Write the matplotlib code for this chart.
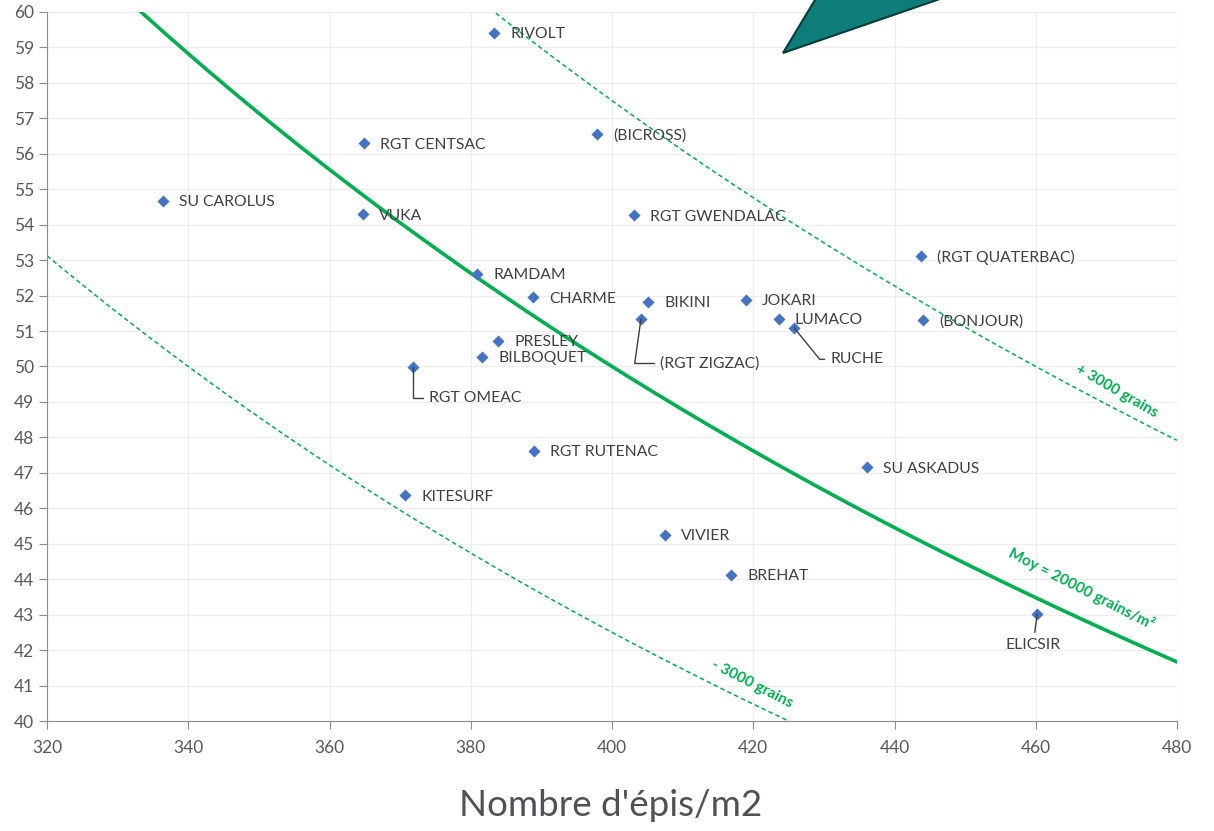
import numpy as np
import matplotlib.pyplot as plt
from matplotlib.patches import Polygon

plt.rcParams['font.family'] = ['Lato', 'DejaVu Sans']

# variétés : épis/m2, grains/épi
varietes = ['RIVOLT', 'RGT CENTSAC', '(BICROSS)', 'SU CAROLUS', 'VUKA',
            'RGT GWENDALAC', '(RGT QUATERBAC)', 'RAMDAM', 'CHARME', 'BIKINI',
            'JOKARI', 'LUMACO', 'RUCHE', '(BONJOUR)', '(RGT ZIGZAC)',
            'PRESLEY', 'BILBOQUET', 'RGT OMEAC', 'RGT RUTENAC', 'SU ASKADUS',
            'KITESURF', 'VIVIER', 'BREHAT', 'ELICSIR']
epis = [383.3, 364.9, 397.9, 336.4, 364.7,
        403.1, 443.8, 380.9, 388.8, 405.1,
        419.0, 423.6, 425.8, 444.0, 404.1,
        383.9, 381.6, 371.8, 389.0, 436.1,
        370.7, 407.5, 416.9, 460.2]
grains = [59.41, 56.30, 56.56, 54.67, 54.30,
          54.27, 53.12, 52.61, 51.96, 51.82,
          51.88, 51.34, 51.09, 51.31, 51.34,
          50.72, 50.27, 49.99, 47.62, 47.16,
          46.37, 45.25, 44.12, 43.02]

moy = 20000      # grains/m2
ecart = 3000     # +/- grains

# offsets of the labels (pixels) and leader lines
offsets = {'RGT OMEAC': (16, -30), '(RGT ZIGZAC)': (19, -43),
           'RUCHE': (36, -30), 'ELICSIR': (-4, -24)}
leaders = {'RGT OMEAC': 'angle,angleA=0,angleB=90,rad=0',
           '(RGT ZIGZAC)': 'angle,angleA=0,angleB=82,rad=0',
           'RUCHE': 'angle,angleA=0,angleB=-51,rad=0',
           'ELICSIR': 'arc3,rad=0'}

green = '#00B050'
grey = '#595959'

fig = plt.figure(figsize=(12.14, 8.31), dpi=100)
ax = fig.add_axes([47 / 1214, 1 - 721 / 831, 1130 / 1214, 709 / 831])

x = np.linspace(320, 480, 400)
ax.plot(x, moy / x, color=green, lw=2.6, zorder=2)
ax.plot(x, (moy + ecart) / x, color=green, lw=1.1, ls=(0, (3, 2)), zorder=2)
ax.plot(x, (moy - ecart) / x, color=green, lw=1.1, ls=(0, (3, 2)), zorder=2)

ax.scatter(epis, grains, marker='D', s=38, color='#4472C4', zorder=3, linewidths=0)

for name, xv, yv in zip(varietes, epis, grains):
    if name in offsets:
        ha = 'center' if name == 'ELICSIR' else 'left'
        va = 'top' if name == 'ELICSIR' else 'center_baseline'
        ax.annotate(name, (xv, yv), xytext=offsets[name], textcoords='offset pixels',
                    ha=ha, va=va, fontsize=11.3, color='#404040',
                    arrowprops=dict(arrowstyle='-', color='#404040', lw=1,
                                    connectionstyle=leaders[name],
                                    shrinkA=2, shrinkB=0))
    else:
        ax.annotate(name, (xv, yv), xytext=(16, 0), textcoords='offset pixels',
                    ha='left', va='center_baseline', fontsize=11.3, color='#404040')

ax.text(471.5, 49.3, '+ 3000 grains', color=green, fontsize=11, fontweight='bold',
        rotation=-30, ha='center', va='center')
ax.text(466.5, 43.75, 'Moy = 20000 grains/m²', color=green, fontsize=11,
        fontweight='bold', rotation=-27, ha='center', va='center')
ax.text(419.8, 41.05, '- 3000 grains', color=green, fontsize=11, fontweight='bold',
        rotation=-27, ha='center', va='center')

ax.set_xlim(320, 480)
ax.set_ylim(40, 60)
ax.set_xticks(np.arange(320, 481, 20))
ax.set_yticks(np.arange(40, 61, 1))
ax.grid(True, color='#EEEEEE', lw=0.9)
ax.set_axisbelow(True)
for s in ['top', 'right']:
    ax.spines[s].set_visible(False)
for s in ['left', 'bottom']:
    ax.spines[s].set_color('#8C8C8C')
ax.tick_params(colors='#8C8C8C', labelcolor=grey, labelsize=12.5, length=6, direction='out')
ax.tick_params(axis='x', pad=8)

fig.text(611 / 1214, 1 - 805 / 831, "Nombre d'épis/m2", fontsize=26.5, color='#505058',
         ha='center', va='center')

# flèche décorative en haut
pts = [(783, 53), (827, -20), (995, -20)]
tri = Polygon([(px / 1214, 1 - py / 831) for px, py in pts], closed=True,
              transform=fig.transFigure, facecolor='#0E7C78', edgecolor='#0B3B3A',
              lw=1.5, clip_on=False)
fig.patches.append(tri)

fig.savefig('out.png', dpi=100)
